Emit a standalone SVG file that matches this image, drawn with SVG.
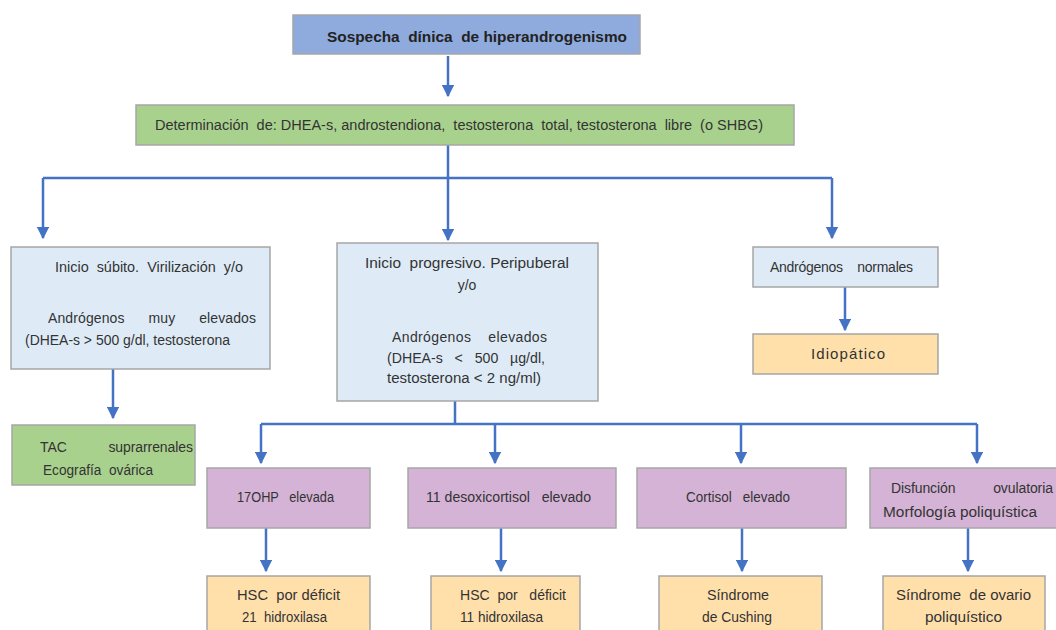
<svg xmlns="http://www.w3.org/2000/svg" width="1056" height="630" viewBox="0 0 1056 630">
<defs>
<marker id="arr" viewBox="0 0 10 10" refX="9" refY="5" markerWidth="5" markerHeight="5" orient="auto" markerUnits="strokeWidth">
<path d="M0,0 L10,5 L0,10 z" fill="#4472c4"/>
</marker>
</defs>
<style>
rect{stroke:#a6a6a6;stroke-width:1.5}
.b{fill:#8faadc}.g{fill:#a9d18e}.l{fill:#deebf7}.p{fill:#d5b3d6}.o{fill:#ffe0ab}
text{font-family:"Liberation Sans",Arial,sans-serif;font-size:14px;fill:#333;white-space:pre}
.t{font-weight:bold;font-size:15px;fill:#222}
.c path{fill:none;stroke:#4472c4;stroke-width:2.5}
</style>
<rect width="1056" height="630" fill="#fff" style="stroke:none"/>
<g class="c" id="connectors">
<path d="M448,56 V96" marker-end="url(#arr)"/>
<path d="M448,145 V178"/>
<path d="M43,178 H832"/>
<path d="M43,178 V238" marker-end="url(#arr)"/>
<path d="M448,178 V240" marker-end="url(#arr)"/>
<path d="M832,178 V238" marker-end="url(#arr)"/>
<path d="M113,369 V418" marker-end="url(#arr)"/>
<path d="M845,287 V330" marker-end="url(#arr)"/>
<path d="M455,401 V424"/>
<path d="M261,424 H977"/>
<path d="M261,424 V463" marker-end="url(#arr)"/>
<path d="M495,424 V463" marker-end="url(#arr)"/>
<path d="M741,424 V463" marker-end="url(#arr)"/>
<path d="M977,424 V463" marker-end="url(#arr)"/>
<path d="M266,528 V571" marker-end="url(#arr)"/>
<path d="M501,528 V571" marker-end="url(#arr)"/>
<path d="M742,528 V571" marker-end="url(#arr)"/>
<path d="M968,528 V571" marker-end="url(#arr)"/>
</g>
<g id="n-sospecha"><rect class="b" x="293" y="15" width="347" height="39"/>
<text class="t" x="327" y="42" textLength="300" lengthAdjust="spacingAndGlyphs">Sospecha  dínica  de hiperandrogenismo</text></g>
<g id="n-determinacion"><rect class="g" x="136" y="105" width="658" height="40"/>
<text x="155" y="130" textLength="608" lengthAdjust="spacingAndGlyphs">Determinación  de: DHEA-s, androstendiona,  testosterona  total, testosterona  libre  (o SHBG)</text></g>
<g id="n-subito"><rect class="l" x="11" y="247" width="259" height="122"/>
<text x="55" y="272" textLength="188" lengthAdjust="spacingAndGlyphs">Inicio  súbito.  Virilización  y/o</text>
<text x="48" y="323" textLength="208" lengthAdjust="spacing">Andrógenos      muy      elevados</text>
<text x="25" y="345" textLength="205" lengthAdjust="spacingAndGlyphs">(DHEA-s &gt; 500 g/dl, testosterona</text></g>
<g id="n-progresivo"><rect class="l" x="337" y="243" width="261" height="158"/>
<text x="365" y="268" textLength="204" lengthAdjust="spacingAndGlyphs">Inicio  progresivo. Peripuberal</text>
<text x="467" y="290" text-anchor="middle">y/o</text>
<text x="392" y="342" textLength="155" lengthAdjust="spacing">Andrógenos    elevados</text>
<text x="387" y="363" textLength="158" lengthAdjust="spacingAndGlyphs">(DHEA-s   &lt;   500   µg/dl,</text>
<text x="387" y="383" textLength="154" lengthAdjust="spacingAndGlyphs">testosterona &lt; 2 ng/ml)</text></g>
<g id="n-normales"><rect class="l" x="753" y="247" width="185" height="40"/>
<text x="770" y="272" textLength="143" lengthAdjust="spacing">Andrógenos    normales</text></g>
<g id="n-idiopatico"><rect class="o" x="753" y="334" width="185" height="40"/>
<text x="811" y="359" textLength="74" lengthAdjust="spacing" style="font-size:15px">Idiopático</text></g>
<g id="n-tac"><rect class="g" x="12" y="425" width="183" height="60"/>
<text x="40" y="452" textLength="153" lengthAdjust="spacing">TAC           suprarrenales</text>
<text x="43" y="475" textLength="110" lengthAdjust="spacingAndGlyphs">Ecografía  ovárica</text></g>
<g id="n-17ohp"><rect class="p" x="207" y="468" width="163" height="60"/>
<text x="237" y="502" textLength="97" lengthAdjust="spacingAndGlyphs">17OHP   elevada</text></g>
<g id="n-desoxi"><rect class="p" x="408" y="468" width="208" height="60"/>
<text x="426" y="502" textLength="165" lengthAdjust="spacingAndGlyphs">11 desoxicortisol   elevado</text></g>
<g id="n-cortisol"><rect class="p" x="637" y="468" width="209" height="60"/>
<text x="686" y="502" textLength="104" lengthAdjust="spacingAndGlyphs">Cortisol   elevado</text></g>
<g id="n-disfuncion"><rect class="p" x="870" y="468" width="190" height="60"/>
<text x="891" y="493" textLength="162" lengthAdjust="spacing">Disfunción          ovulatoria</text>
<text x="883" y="517" textLength="154" lengthAdjust="spacingAndGlyphs">Morfología poliquística</text></g>
<g id="n-hsc21"><rect class="o" x="207" y="576" width="163" height="64"/>
<text x="237" y="600" textLength="103" lengthAdjust="spacingAndGlyphs">HSC  por déficit</text>
<text x="242" y="622" textLength="85" lengthAdjust="spacingAndGlyphs">21  hidroxilasa</text></g>
<g id="n-hsc11"><rect class="o" x="431" y="576" width="149" height="64"/>
<text x="460" y="600" textLength="106" lengthAdjust="spacingAndGlyphs">HSC  por   déficit</text>
<text x="460" y="622" textLength="83" lengthAdjust="spacingAndGlyphs">11 hidroxilasa</text></g>
<g id="n-cushing"><rect class="o" x="659" y="576" width="163" height="64"/>
<text x="707" y="600" textLength="62" lengthAdjust="spacingAndGlyphs">Síndrome</text>
<text x="702" y="622" textLength="70" lengthAdjust="spacingAndGlyphs">de Cushing</text></g>
<g id="n-sop"><rect class="o" x="883" y="576" width="162" height="64"/>
<text x="896" y="600" textLength="135" lengthAdjust="spacingAndGlyphs">Síndrome  de ovario</text>
<text x="925" y="622" textLength="77" lengthAdjust="spacingAndGlyphs" style="font-size:15px">poliquístico</text></g>
</svg>
